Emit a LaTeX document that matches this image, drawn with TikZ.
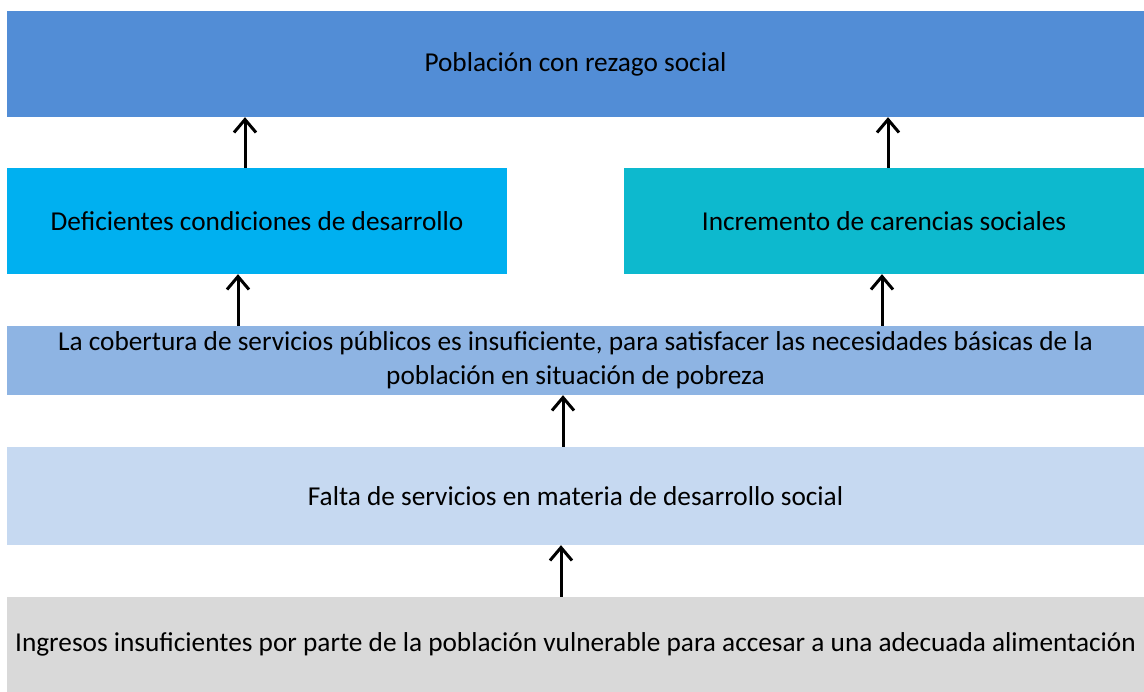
\documentclass[tikz,border=0pt]{standalone}
\usepackage{fontspec}
\setmainfont{Carlito}
\usetikzlibrary{positioning}
\usetikzlibrary{calc}
\usetikzlibrary{arrows.meta}
\definecolor{azul}{HTML}{528DD6}
\definecolor{cielo}{HTML}{00B0F0}
\definecolor{turquesa}{HTML}{0DB9CE}
\definecolor{azulclaro}{HTML}{8EB4E3}
\definecolor{azulpalido}{HTML}{C6D9F1}
\definecolor{gris}{HTML}{D9D9D9}

\begin{document}
\begin{tikzpicture}[x=1pt, y=1pt, caja/.style={rectangle, inner sep=0pt, align=center, font=\fontsize{27.3}{34}\selectfont}, flecha/.style={black, line width=3pt, -{Straight Barb[length=13pt,width=22pt]}}]
            \useasboundingbox (0,0) rectangle (1144,692);
            \node[caja, fill=azul, minimum width=1137pt, minimum height=106pt] (P) at (575.5,628) {Población con rezago social};
            \node[caja, fill=cielo, minimum width=500pt, minimum height=106pt] (D) at (257,471) {Deficientes condiciones de desarrollo};
            \node[caja, fill=turquesa, minimum width=520pt, minimum height=106pt] (I) at (884,471) {Incremento de carencias sociales};
            \node[caja, fill=azulclaro, minimum width=1137pt, minimum height=69pt] (C) at (575.5,331.5) {La cobertura de servicios públicos es insuficiente, para satisfacer las necesidades básicas de la\\población en situación de pobreza};
            \node[caja, fill=azulpalido, minimum width=1137pt, minimum height=98pt] (F) at (575.5,196) {Falta de servicios en materia de desarrollo social};
            \node[caja, fill=gris, minimum width=1137pt, minimum height=95pt] (G) at (575.5,47.5) {Ingresos insuficientes por parte de la población vulnerable para accesar a una adecuada alimentación};

            \draw[flecha] ([xshift=-12pt]D.north) -- ([xshift=-12pt]D.north |- P.south);
            \draw[flecha] ([xshift=4pt]I.north) -- ([xshift=4pt]I.north |- P.south);
            \draw[flecha] ([xshift=-19pt]D.south |- C.north) -- ([xshift=-19pt]D.south);
            \draw[flecha] ([xshift=-2pt]I.south |- C.north) -- ([xshift=-2pt]I.south);
            \draw[flecha] ([xshift=-12.5pt]F.north) -- ([xshift=-12.5pt]C.south);
            \draw[flecha] ([xshift=-14.5pt]G.north) -- ([xshift=-14.5pt]F.south);
        \end{tikzpicture}
\end{document}
